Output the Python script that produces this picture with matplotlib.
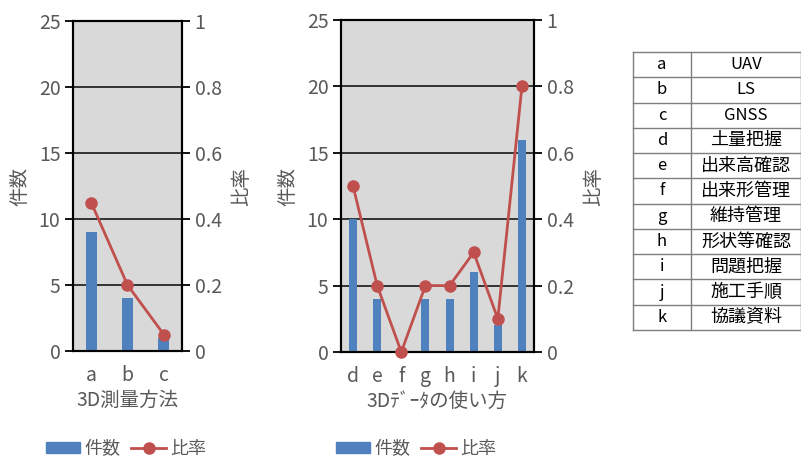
import matplotlib
matplotlib.use('Agg')
import matplotlib.pyplot as plt
from matplotlib.patches import Patch
from matplotlib.lines import Line2D

plt.rcParams['font.family'] = ['Noto Sans CJK JP', 'DejaVu Sans']

# data
methods = ['a', 'b', 'c']
method_counts = [9, 4, 1]
method_ratio = [0.45, 0.2, 0.05]

uses = ['d', 'e', 'f', 'g', 'h', 'i', 'j', 'k']
use_counts = [10, 4, 0, 4, 4, 6, 2, 16]
use_ratio = [0.5, 0.2, 0.0, 0.2, 0.2, 0.3, 0.1, 0.8]

table_keys = ['a', 'b', 'c', 'd', 'e', 'f', 'g', 'h', 'i', 'j', 'k']
table_names = ['UAV', 'LS', 'GNSS', '土量把握', '出来高確認', '出来形管理',
               '維持管理', '形状等確認', '問題把握', '施工手順', '協議資料']

count_ticks = [0, 5, 10, 15, 20, 25]
ratio_ticks = [0, 0.2, 0.4, 0.6, 0.8, 1.0]
ratio_labels = ['0', '0.2', '0.4', '0.6', '0.8', '1']

BLUE = '#4f81bd'
RED = '#c0504d'
GRAY_TXT = '#595959'
BG = '#d9d9d9'

W, H = 801, 462
fig = plt.figure(figsize=(W / 100, H / 100), dpi=100)


def px(x0, y0, x1, y1):
    return [x0 / W, 1 - y1 / H, (x1 - x0) / W, (y1 - y0) / H]


def panel(rect, cats, counts, ratio, xlabel, bar_w, leg_x):
    ax = fig.add_axes(rect)
    ax.set_facecolor(BG)
    x = list(range(len(cats)))
    ax.bar(x, counts, width=bar_w, color=BLUE, zorder=3)
    ax.set_xlim(-0.5, len(cats) - 0.5)
    ax.set_ylim(0, 25)
    ax.set_yticks(count_ticks)
    ax.set_xticks(x)
    ax.set_xticklabels(cats)
    for v in count_ticks[1:-1]:
        ax.axhline(v, color='#262626', lw=1.3, zorder=1)
    ax.tick_params(axis='x', length=0, pad=10, labelsize=14, labelcolor=GRAY_TXT)
    ax.tick_params(axis='y', length=6, width=1.3, direction='out',
                   labelsize=14, labelcolor=GRAY_TXT, pad=3)
    for s in ax.spines.values():
        s.set_linewidth(1.5)
        s.set_color('black')
    ax.set_ylabel('件数', fontsize=14, color=GRAY_TXT, labelpad=6)
    ax.set_xlabel(xlabel, fontsize=14, color=GRAY_TXT, labelpad=3)

    ax2 = ax.twinx()
    ax2.plot(x, ratio, color=RED, lw=2, marker='o', markersize=8, zorder=4,
             clip_on=False)
    ax2.set_ylim(0, 1)
    ax2.set_yticks(ratio_ticks)
    ax2.set_yticklabels(ratio_labels)
    ax2.tick_params(axis='y', length=6, width=1.3, direction='out',
                    labelsize=14, labelcolor=GRAY_TXT, pad=3)
    ax2.set_ylabel('比率', fontsize=14, color=GRAY_TXT, rotation=90,
                   labelpad=7)
    for s in ax2.spines.values():
        s.set_linewidth(1.5)

    handles = [Patch(color=BLUE, label='件数'),
               Line2D([], [], color=RED, lw=2, marker='o', markersize=8,
                      label='比率')]
    fig.legend(handles=handles, loc='center', bbox_to_anchor=(leg_x / W, 1 - 449 / H),
               ncol=2, frameon=False, fontsize=13, labelcolor=GRAY_TXT,
               handlelength=1.9, handleheight=0.5, columnspacing=0.6,
               handletextpad=0.25, borderpad=0.1)
    return ax


panel(px(73, 21, 182, 351), methods, method_counts, method_ratio,
      '3D測量方法', 0.3, 126)
panel(px(341, 20, 534, 352), uses, use_counts, use_ratio,
      '3Dﾃﾞｰﾀの使い方', 0.33, 416)

# lookup table on the right
tx0, ty0, tx1, ty1 = 633, 52, 801, 330
tax = fig.add_axes(px(tx0, ty0, tx1, ty1))
tax.set_xlim(tx0, tx1)
tax.set_ylim(ty1, ty0)
tax.axis('off')
n = len(table_keys)
row_h = (ty1 - ty0) / n
col = 691
line_kw = dict(color='#7f7f7f', lw=1.0, clip_on=False)
for i in range(n + 1):
    y = ty0 + i * row_h
    tax.plot([tx0, tx1], [y, y], **line_kw)
for xv in [tx0, col, tx1 - 0.5]:
    tax.plot([xv, xv], [ty0, ty1], **line_kw)
for i, (k, name) in enumerate(zip(table_keys, table_names)):
    yc = ty0 + (i + 0.5) * row_h
    tax.text((tx0 + col) / 2, yc, k, ha='center', va='center', fontsize=12,
             color='black')
    tax.text((col + tx1) / 2, yc, name, ha='center', va='center',
             fontsize=12 if name.isascii() else 13, color='black')

fig.savefig('out.png', dpi=100)
